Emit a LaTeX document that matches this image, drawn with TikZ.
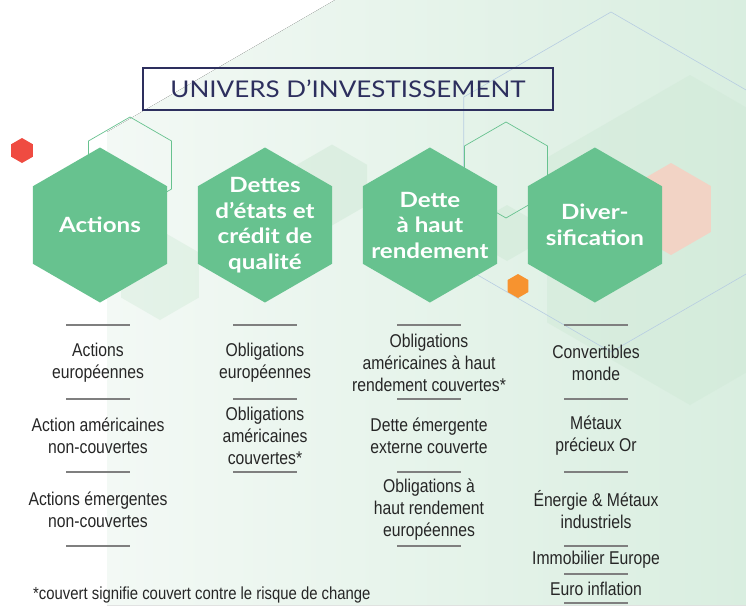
\documentclass[tikz,border=0pt]{standalone}
\usepackage{fontspec}
\setmainfont[FakeStretch=0.85]{Liberation Sans}
\newfontfamily\hexfont[FakeStretch=1.15]{Lato}
\newfontfamily\titlefont[FakeStretch=1.13]{Lato}
\usetikzlibrary{positioning,shapes.geometric}

\definecolor{hexgreen}{HTML}{67C28F}
\definecolor{navy}{HTML}{2D2F5E}
\definecolor{txtgray}{HTML}{262626}
\definecolor{rulegray}{HTML}{7F7F7F}
\definecolor{mintA}{HTML}{F3F9F5}
\definecolor{mintB}{HTML}{D9EEE0}
\definecolor{lineblue}{HTML}{B7CDE2}
\definecolor{redhex}{HTML}{EF4B41}
\definecolor{orangehex}{HTML}{F7932F}
\definecolor{peach}{HTML}{F2D3C5}
\definecolor{palegreen}{HTML}{CFE9D6}

\tikzset{
  hexa/.style={regular polygon, regular polygon sides=6, shape border rotate=30, inner sep=0pt, outer sep=0pt, minimum size=155pt, fill=hexgreen},
  hexlabel/.style={text=white, align=center, inner sep=0pt, font=\hexfont\bfseries\fontsize{21}{25.5}\selectfont},
  listitem/.style={text=txtgray, align=center, inner sep=0pt, font=\fontsize{18.5}{22}\selectfont},
  rulesep/.style={rulegray, line width=1.2pt},
}

\begin{document}
\begin{tikzpicture}[x=1pt, y=-1pt]
    \useasboundingbox (0,0) rectangle (746,605);
    % background
    \fill[left color=mintA, right color=mintB] (335,0) -- (746,0) -- (746,605) -- (107,605) -- (107,132) -- cycle;
    \node[hexa, minimum size=330pt, fill=palegreen, opacity=0.45](bigpale) at (690,240){};
    \node[hexa, minimum size=340pt, fill=none, draw=lineblue, line width=0.6pt](bigline) at (611,182){};
    \node[hexa, minimum size=81pt, fill=palegreen, opacity=0.5](pale1) at (332,185){};
    \node[hexa, minimum size=90pt, fill=palegreen, opacity=0.4](pale2) at (160,275){};
    \node[hexa, minimum size=56pt, fill=palegreen, opacity=0.5](pale3) at (507,233){};
    \node[hexa, minimum size=92pt, fill=peach](peachhex) at (671,209){};
    \node[hexa, minimum size=96pt, fill=none, draw=hexgreen, line width=0.7pt](ring1) at (130,165){};
    \node[hexa, minimum size=96pt, fill=none, draw=hexgreen, line width=0.7pt](ring2) at (506,170){};

    % title
    \node[draw=navy, line width=1.1pt, minimum width=410pt, minimum height=42pt, text=navy, font=\titlefont\fontsize{23}{28}\selectfont](titre) at (348,89){UNIVERS D’INVESTISSEMENT};

    % main hexagons
    \node[hexa](actions) at (100,225){};
    \node[hexa, right=30.7pt of actions](dettes){};
    \node[hexa, right=30.7pt of dettes](haut){};
    \node[hexa, right=30.7pt of haut](diver){};
    \node[hexlabel](actionslbl) at (actions){Actions};
    \node[hexlabel](detteslbl) at (dettes){Dettes\\d’états et\\crédit de\\qualité};
    \node[hexlabel](hautlbl) at (haut){Dette\\à haut\\rendement};
    \node[hexlabel](diverlbl) at (diver){Diver-\\sification};

    \node[hexa, minimum size=25pt, fill=redhex](redhex) at (22,150.5){};
    \node[hexa, minimum size=24pt, fill=orangehex](orangehex) at (518,286){};

    % separators
    \foreach \x/\ylist in {98/{325,399,472,546}, 265/{325,399,472}, 429/{325,399,472,546}, 596/{325,399,472,546,574,603}}
        \foreach \y in \ylist
            \draw[rulesep] (\x-32,\y) -- (\x+32,\y);

    % lists
    \node[listitem](act1) at (98,363){Actions\\européennes};
    \node[listitem](act2) at (98,436){Action américaines\\non-couvertes};
    \node[listitem](act3) at (98,510){Actions émergentes\\non-couvertes};

    \node[listitem](det1) at (265,363){Obligations\\européennes};
    \node[listitem](det2) at (265,436){Obligations\\américaines\\couvertes*};

    \node[listitem](hau1) at (429,363){Obligations\\américaines à haut\\rendement couvertes*};
    \node[listitem](hau2) at (429,436){Dette émergente\\externe couverte};
    \node[listitem](hau3) at (429,509.5){Obligations à\\haut rendement\\européennes};

    \node[listitem](div1) at (596,363){Convertibles\\monde};
    \node[listitem](div2) at (596,436){Métaux\\précieux Or};
    \node[listitem](div3) at (596,510){Énergie \& Métaux\\industriels};
    \node[listitem](div4) at (596,560){Immobilier Europe};
    \node[listitem](div5) at (596,589){Euro inflation};

    \node[anchor=base west, inner sep=0pt, text=txtgray, font=\fontsize{17.5}{21}\selectfont](note) at (33,599){*couvert signifie couvert contre le risque de change};
\end{tikzpicture}
\end{document}
